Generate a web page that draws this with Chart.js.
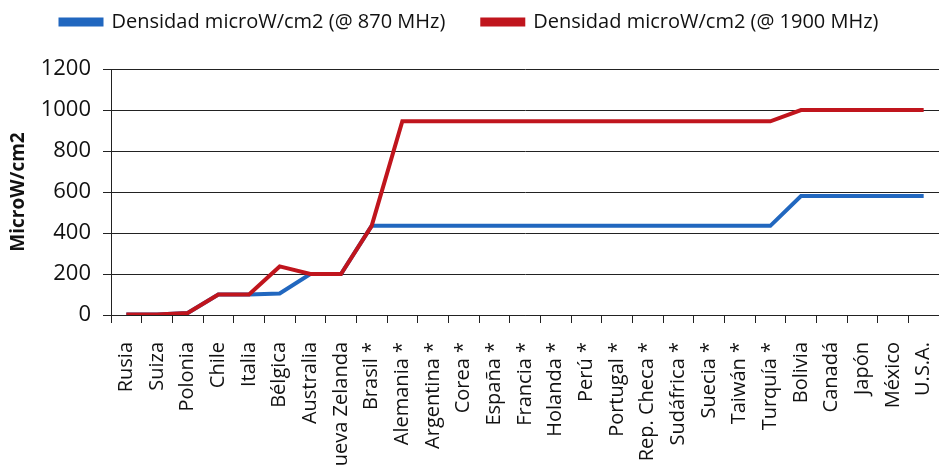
<!DOCTYPE html>
<html>
<head>
<meta charset="utf-8">
<script src="https://cdn.jsdelivr.net/npm/chart.js@4.4.0/dist/chart.umd.min.js"></script>
<style>
    html, body { margin: 0; padding: 0; background: #fff; }
    .chart { width: 939px; height: 467px; position: relative; }
</style>
</head>
<body>
<div class="chart"><canvas id="lineChart"></canvas></div>
<script>
const paises = [
    'Rusia', 'Suiza', 'Polonia', 'Chile', 'Italia', 'Bélgica', 'Australia', 'Nueva Zelanda',
    'Brasil *', 'Alemania *', 'Argentina *', 'Corea *', 'España *', 'Francia *', 'Holanda *',
    'Perú *', 'Portugal *', 'Rep. Checa *', 'Sudáfrica *', 'Suecia *', 'Taiwán *', 'Turquía *',
    'Bolivia', 'Canadá', 'Japón', 'México', 'U.S.A.'
];
const densidad870 = [
    2, 2, 10, 100, 100, 105, 200, 200,
    435, 435, 435, 435, 435, 435, 435,
    435, 435, 435, 435, 435, 435, 435,
    580, 580, 580, 580, 580
];
const densidad1900 = [
    2, 2, 10, 100, 100, 237, 200, 200,
    435, 945, 945, 945, 945, 945, 945,
    945, 945, 945, 945, 945, 945, 945,
    1000, 1000, 1000, 1000, 1000
];
const yTicks = [0, 200, 400, 600, 800, 1000, 1200];

const AZUL = '#2167bf';
const ROJO = '#c0151d';
const GRIS = '#222';

// mas espacio bajo la leyenda
const legendSpace = {
    id: 'legendSpace',
    beforeInit(chart) {
        const fit = chart.legend.fit;
        chart.legend.fit = function() {
            fit.bind(chart.legend)();
            this.height = 94;
        };
    }
};

new Chart(document.getElementById('lineChart'), {
    type: 'line',
    data: {
        labels: paises,
        datasets: [{
            label: 'Densidad microW/cm2 (@ 870 MHz)',
            data: densidad870,
            borderColor: AZUL,
            backgroundColor: AZUL,
            borderWidth: 4,
            pointRadius: 0,
            tension: 0,
            order: 1
        },
        {
            label: 'Densidad microW/cm2 (@ 1900 MHz)',
            data: densidad1900,
            borderColor: ROJO,
            backgroundColor: ROJO,
            borderWidth: 4,
            pointRadius: 0,
            tension: 0,
            order: 0
        }]
    },
    options: {
        responsive: true,
        maintainAspectRatio: false,
        animation: false,
        layout: {
            padding: { top: -25, left: 0, right: 0, bottom: 0 }
        },
        plugins: {
            tooltip: { enabled: false },
            legend: {
                position: 'top',
                labels: {
                    boxWidth: 41,
                    boxHeight: 5,
                    padding: 37,
                    color: '#111',
                    font: { size: 20, family: "'Open Sans'" },
                    sort: (a, b) => a.datasetIndex - b.datasetIndex
                }
            }
        },
        scales: {
            x: {
                offset: true,
                grid: {
                    offset: true,
                    drawOnChartArea: false,
                    color: GRIS,
                    tickLength: 8
                },
                border: { color: GRIS, width: 1 },
                ticks: {
                    autoSkip: false,
                    maxRotation: 90,
                    minRotation: 90,
                    padding: 19,
                    color: '#111',
                    font: { size: 20, family: "'Open Sans'" }
                },
                afterFit(scale) {
                    scale.height = 152;
                    scale.paddingLeft = 0;
                    scale.paddingRight = 0;
                }
            },
            y: {
                min: 0,
                max: 1200,
                afterBuildTicks(scale) {
                    scale.ticks = yTicks.map(v => ({ value: v }));
                },
                grid: {
                    color: GRIS,
                    tickLength: 8
                },
                border: { color: GRIS, width: 1 },
                ticks: {
                    padding: 12,
                    color: '#111',
                    font: { size: 22, family: "'Open Sans'" },
                    callback: v => String(v)
                },
                title: {
                    display: true,
                    text: 'MicroW/cm2',
                    color: '#111',
                    padding: { top: 7, bottom: 0 },
                    font: { size: 19, weight: 'bold', family: "'Open Sans'" }
                },
                afterFit(scale) {
                    scale.width = 111;
                }
            }
        }
    },
    plugins: [legendSpace]
});
</script>
</body>
</html>
